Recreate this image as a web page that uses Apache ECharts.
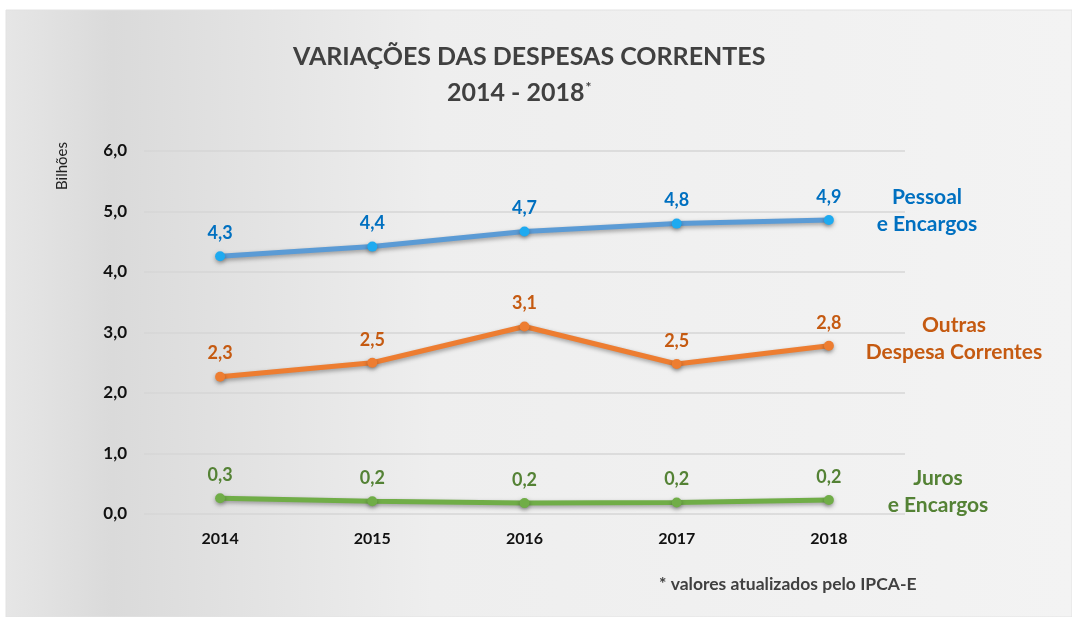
<!DOCTYPE html>
<html>
<head>
<meta charset="utf-8">
<script src="https://cdn.jsdelivr.net/npm/echarts@6/dist/echarts.min.js"></script>
<style>
  html, body { margin: 0; padding: 0; background: #fff; }
  #myChart { width: 1072px; height: 617px; }
</style>
</head>
<body>
<div id="myChart"></div>
<script>
// dados
var anos = ['2014', '2015', '2016', '2017', '2018'];
var pessoal = [4.26, 4.42, 4.67, 4.80, 4.86];
var outras = [2.27, 2.50, 3.10, 2.48, 2.78];
var juros = [0.26, 0.21, 0.18, 0.19, 0.23];
var yTicks = [0, 1, 2, 3, 4, 5, 6];

var FONT = 'Lato, "Open Sans", sans-serif';

function fmt(v) {
  return v.toFixed(1).replace('.', ',');
}

function serie(name, data, lineColor, dotColor, labelColor) {
  return {
    name: name,
    type: 'line',
    data: data,
    symbol: 'circle',
    symbolSize: 10,
    lineStyle: {
      color: lineColor, width: 5,
      shadowColor: 'rgba(0,0,0,0.35)', shadowBlur: 4, shadowOffsetX: 1, shadowOffsetY: 2
    },
    itemStyle: { color: dotColor, shadowColor: 'rgba(0,0,0,0.35)', shadowBlur: 4, shadowOffsetY: 2 },
    label: {
      show: true, position: 'top', distance: 9,
      color: labelColor, fontFamily: FONT, fontWeight: 'bold', fontSize: 18,
      formatter: function (p) { return fmt(p.value); }
    },
    emphasis: { disabled: true }
  };
}

var myChart = echarts.init(document.getElementById('myChart'));
myChart.setOption({
  animation: false,
  textStyle: { fontFamily: FONT },
  graphic: [
    {
      type: 'rect', z: -10, silent: true,
      shape: { x: 6, y: 10, width: 1066, height: 607 },
      style: {
        fill: new echarts.graphic.LinearGradient(0, 0, 1, 0, [
          { offset: 0, color: '#e6e6e6' },
          { offset: 0.1, color: '#dadada' },
          { offset: 0.4, color: '#eeeeee' },
          { offset: 1, color: '#f3f3f3' }
        ]),
        stroke: '#e2e2e2', lineWidth: 1
      }
    },
    {
      type: 'text', left: 293, top: 44,
      style: { text: 'VARIAÇÕES DAS DESPESAS CORRENTES', fill: '#404040', font: 'bold 25px ' + FONT }
    },
    {
      type: 'text', left: 447, top: 80,
      style: {
        text: '{a|2014 - 2018}{s|*}',
        rich: {
          a: { fill: '#404040', font: 'bold 25px ' + FONT },
          s: { fill: '#404040', font: 'bold 14px ' + FONT, verticalAlign: 'top', padding: [0, 0, 12, 1] }
        }
      }
    },
    {
      type: 'text', x: 62, y: 166, rotation: Math.PI / 2,
      style: { text: 'Bilhões', fill: '#222', font: '15px ' + FONT, align: 'center', verticalAlign: 'middle' }
    },
    {
      type: 'text', x: 927, y: 211,
      style: { text: 'Pessoal\ne Encargos', fill: '#0070c0', font: 'bold 21px ' + FONT, align: 'center', verticalAlign: 'middle', lineHeight: 27 }
    },
    {
      type: 'text', x: 954, y: 339,
      style: { text: 'Outras\nDespesa Correntes', fill: '#c55a11', font: 'bold 21px ' + FONT, align: 'center', verticalAlign: 'middle', lineHeight: 27 }
    },
    {
      type: 'text', x: 938, y: 492,
      style: { text: 'Juros\ne Encargos', fill: '#548235', font: 'bold 21px ' + FONT, align: 'center', verticalAlign: 'middle', lineHeight: 27 }
    },
    {
      type: 'text', left: 659, top: 575,
      style: { text: '* valores atualizados pelo IPCA-E', fill: '#404040', font: 'bold 17.5px ' + FONT }
    }
  ],
  grid: { left: 144, right: 167, top: 151, bottom: 103 },
  xAxis: {
    type: 'category',
    data: anos,
    boundaryGap: true,
    axisLine: { show: false },
    axisTick: { show: false },
    axisLabel: { color: '#111', fontWeight: 'bold', fontSize: 16, fontFamily: FONT, margin: 17 }
  },
  yAxis: {
    type: 'value',
    min: yTicks[0],
    max: yTicks[yTicks.length - 1],
    interval: 1,
    axisLine: { show: false },
    axisTick: { show: false },
    splitLine: { lineStyle: { color: '#d6d6d6', width: 1.5 } },
    axisLabel: {
      color: '#111', fontWeight: 'bold', fontSize: 17, fontFamily: FONT, margin: 17,
      formatter: function (v) { return fmt(v); }
    }
  },
  series: [
    serie('Pessoal e Encargos', pessoal, '#5b9bd5', '#1eaaf0', '#0070c0'),
    serie('Outras Despesa Correntes', outras, '#ed7d31', '#ed7d31', '#c55a11'),
    serie('Juros e Encargos', juros, '#70ad47', '#70ad47', '#548235')
  ]
});
</script>
</body>
</html>
